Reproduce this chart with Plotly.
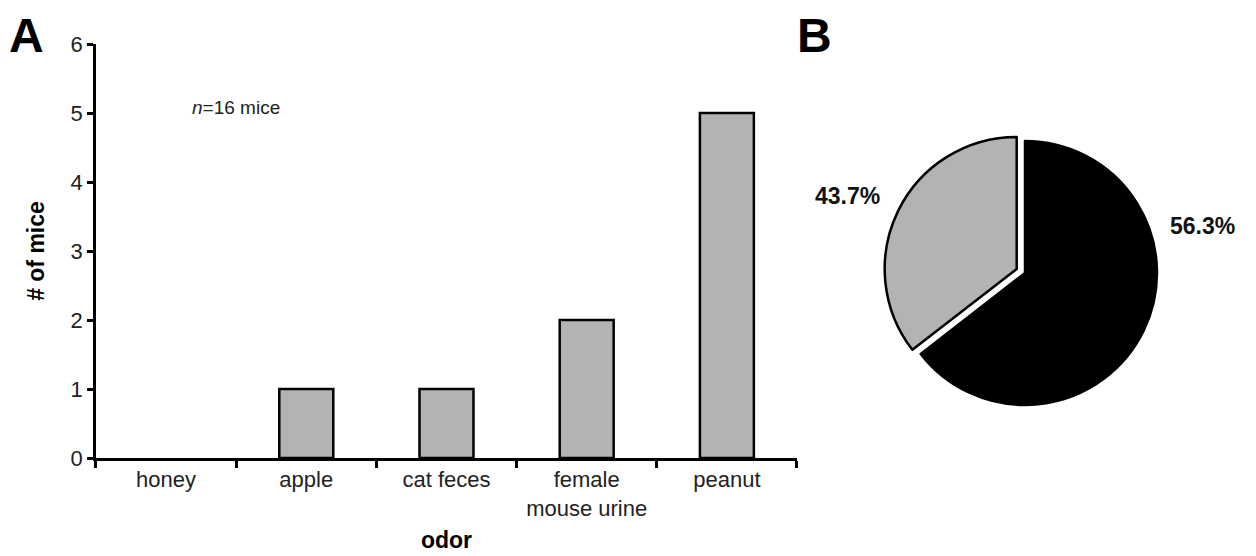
import plotly.graph_objects as go

# ---- data ----
odors = ["honey", "apple", "cat feces", "female<br>mouse urine", "peanut"]
mice_counts = [0, 1, 1, 2, 5]
y_ticks = [0, 1, 2, 3, 4, 5, 6]

pie_groups = ["black", "grey"]
pie_values = [64.5, 35.5]          # slice sizes as drawn
pie_labels = ["56.3%", "43.7%"]    # labels as printed

FONT = "Arial, Liberation Sans, sans-serif"
GREY = "#b3b3b3"

W, H = 1248, 548   # page body has an 8px margin

fig = go.Figure()

fig.add_trace(go.Bar(
    x=odors, y=mice_counts,
    marker=dict(color=GREY,
                line=dict(color="black", width=[0 if v == 0 else 2.5 for v in mice_counts])),
    xaxis="x", yaxis="y", showlegend=False,
))

fig.add_trace(go.Pie(
    labels=pie_groups, values=pie_values,
    sort=False, direction="clockwise", rotation=0,
    pull=[0, 0.07],
    marker=dict(colors=["black", GREY], line=dict(color="black", width=2.5)),
    textinfo="none", hoverinfo="label+percent",
    domain=dict(x=[0.7017, 0.9281], y=[0.2587, 0.7742]),
    showlegend=False,
))

fig.update_layout(
    width=W, height=H,
    margin=dict(l=0, r=0, t=0, b=0, autoexpand=False),
    paper_bgcolor="white", plot_bgcolor="white",
    font=dict(family=FONT, color="black"),
    bargap=0.615,
    xaxis=dict(
        domain=[0.0705, 0.6322], automargin=False,
        showline=True, linecolor="black", linewidth=2.5,
        ticks="outside", tickson="boundaries", ticklen=7, tickwidth=2.5, tickcolor="black",
        tickfont=dict(size=22, color="#222"),
        title=dict(text="<b>odor</b>", font=dict(size=23), standoff=13),
        showgrid=False, zeroline=False,
    ),
    yaxis=dict(
        domain=[0.1788, 0.9343], range=[0, 6], automargin=False,
        tickvals=y_ticks,
        showline=True, linecolor="black", linewidth=2.5,
        ticks="outside", ticklen=6, tickwidth=2.5, tickcolor="black",
        tickfont=dict(size=22, color="#222"),
        title=dict(text="<b># of mice</b>", font=dict(size=23), standoff=20),
        showgrid=False, zeroline=False,
    ),
    annotations=[
        dict(text="<b>A</b>", x=0.0148, y=1.0, xref="paper", yref="paper",
             showarrow=False, font=dict(size=48, color="black"), xanchor="center", yanchor="top",
             borderpad=0),
        dict(text="<b>B</b>", x=0.6466, y=1.0, xref="paper", yref="paper",
             showarrow=False, font=dict(size=48, color="black"), xanchor="center", yanchor="top",
             borderpad=0),
        dict(text="<i>n</i>=16 mice", x=0.1823, y=0.8193, xref="paper", yref="paper",
             showarrow=False, font=dict(size=19, color="#222"), xanchor="center", yanchor="middle"),
        dict(text="<b>" + pie_labels[1] + "</b>", x=0.6727, y=0.6569, xref="paper", yref="paper",
             showarrow=False, font=dict(size=23, color="#111"), xanchor="center", yanchor="middle"),
        dict(text="<b>" + pie_labels[0] + "</b>", x=0.9571, y=0.6013, xref="paper", yref="paper",
             showarrow=False, font=dict(size=23, color="#111"), xanchor="center", yanchor="middle"),
    ],
)

fig.write_html("out.html")
